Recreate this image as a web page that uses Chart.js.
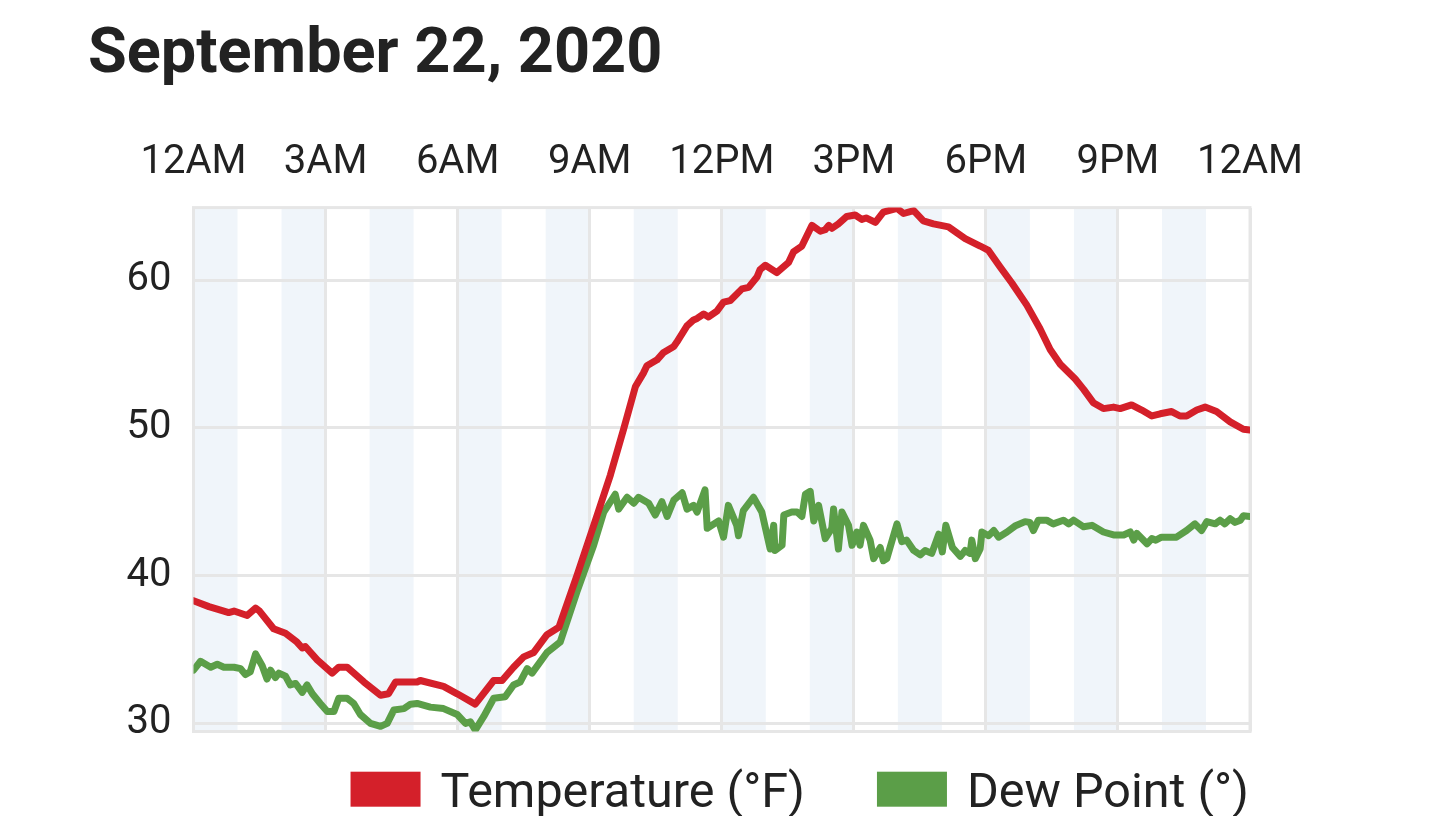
<!DOCTYPE html>
<html>
<head>
<meta charset="utf-8">
<script src="https://cdn.jsdelivr.net/npm/chart.js@4/dist/chart.umd.min.js"></script>
<style>
html,body{margin:0;padding:0;background:#fff;}
#wrap{width:1440px;height:816px;}
canvas{display:block;}
</style>
</head>
<body>
<div id="wrap"><canvas id="c" width="1440" height="816"></canvas></div>
<script>
const titleText = "September 22, 2020";
const hourTicks = [0, 3, 6, 9, 12, 15, 18, 21, 24];
const hourTickLabels = ["12AM", "3AM", "6AM", "9AM", "12PM", "3PM", "6PM", "9PM", "12AM"];
const valueTicks = [30, 40, 50, 60];
const shadedHourStarts = [0, 2, 4, 6, 8, 10, 12, 14, 16, 18, 20, 22];
const seriesLabels = ["Temperature (°F)", "Dew Point (°)"];

// hours since midnight
const tempTimes = [0.00,0.35,0.69,0.80,0.92,1.22,1.41,1.50,1.82,2.09,2.35,2.47,2.54,2.81,3.15,3.30,3.49,3.87,4.25,4.43,4.59,5.08,5.15,5.68,5.99,6.40,6.82,7.01,7.27,7.50,7.73,8.03,8.30,8.71,9.17,9.47,9.77,10.04,10.22,10.30,10.53,10.68,10.91,10.98,11.21,11.36,11.44,11.59,11.70,11.89,12.04,12.19,12.46,12.61,12.80,12.87,12.99,13.25,13.52,13.63,13.82,14.05,14.24,14.35,14.43,14.50,14.65,14.84,15.03,15.18,15.28,15.49,15.67,15.98,16.13,16.36,16.58,16.81,17.15,17.53,17.87,18.06,18.32,18.59,18.93,19.23,19.46,19.69,20.03,20.22,20.44,20.67,20.90,21.05,21.31,21.54,21.77,21.96,22.22,22.41,22.56,22.79,22.98,23.24,23.55,23.85,24.00];
const tempValues = [38.3,37.9,37.6,37.5,37.6,37.3,37.8,37.6,36.4,36.1,35.5,35.1,35.2,34.3,33.4,33.8,33.8,32.8,31.9,32.0,32.8,32.8,32.9,32.5,32.0,31.3,32.9,32.9,33.8,34.5,34.8,36.0,36.5,40.0,44.1,46.8,49.9,52.8,53.7,54.2,54.6,55.1,55.5,55.8,56.9,57.3,57.4,57.7,57.5,57.9,58.5,58.6,59.4,59.5,60.2,60.7,61.0,60.5,61.2,61.9,62.3,63.7,63.3,63.4,63.7,63.5,63.8,64.3,64.4,64.1,64.2,63.9,64.6,64.85,64.5,64.7,64.0,63.8,63.6,62.8,62.3,62.0,60.9,59.8,58.3,56.7,55.3,54.3,53.3,52.6,51.7,51.3,51.4,51.3,51.55,51.2,50.8,50.95,51.1,50.8,50.8,51.2,51.4,51.1,50.4,49.9,49.85];

const dewTimes = [0.00,0.16,0.39,0.54,0.69,0.92,1.07,1.18,1.29,1.41,1.56,1.67,1.75,1.86,1.94,2.09,2.20,2.32,2.47,2.58,2.70,2.88,3.04,3.19,3.30,3.49,3.64,3.79,4.02,4.25,4.40,4.55,4.78,4.93,5.08,5.38,5.68,5.99,6.18,6.29,6.40,6.59,6.82,7.08,7.27,7.42,7.58,7.69,8.03,8.33,8.71,9.09,9.32,9.58,9.66,9.85,10.00,10.11,10.34,10.49,10.64,10.76,10.91,11.10,11.21,11.36,11.44,11.62,11.67,11.93,12.04,12.15,12.34,12.38,12.49,12.72,12.91,13.10,13.18,13.21,13.37,13.41,13.59,13.71,13.82,13.90,14.01,14.09,14.20,14.35,14.50,14.54,14.65,14.73,14.88,14.96,15.07,15.14,15.22,15.37,15.45,15.60,15.67,15.75,15.98,16.09,16.20,16.36,16.51,16.62,16.77,16.93,17.01,17.09,17.24,17.42,17.53,17.64,17.68,17.76,17.87,17.91,18.06,18.18,18.29,18.48,18.66,18.89,19.00,19.08,19.19,19.38,19.53,19.76,19.88,19.99,20.22,20.41,20.67,20.90,21.13,21.28,21.36,21.43,21.66,21.77,21.86,21.99,22.33,22.56,22.75,22.90,23.02,23.21,23.32,23.43,23.55,23.66,23.78,23.85,24.00];
const dewValues = [33.6,34.2,33.8,34.0,33.8,33.8,33.7,33.3,33.5,34.7,33.9,33.0,33.6,33.1,33.4,33.2,32.6,32.7,32.1,32.6,32.0,31.35,30.8,30.8,31.7,31.7,31.35,30.6,30.0,29.8,30.0,30.9,31.0,31.3,31.35,31.1,31.0,30.6,30.0,30.1,29.55,30.45,31.7,31.8,32.6,32.8,33.7,33.4,34.8,35.5,38.9,42.05,44.3,45.5,44.5,45.3,44.9,45.3,44.9,44.1,45.0,44.0,45.1,45.6,44.5,44.75,44.3,45.8,43.2,43.7,42.6,44.75,43.4,42.7,44.4,45.3,44.3,41.8,43.4,41.7,42.05,44.1,44.3,44.3,44.0,45.5,45.7,43.7,44.75,42.5,43.2,44.5,41.8,44.3,43.4,42.05,42.95,42.05,43.4,42.4,41.15,41.9,41.0,41.15,43.5,42.3,42.4,41.7,41.4,41.7,41.5,42.8,41.6,43.4,41.9,41.3,41.7,41.5,42.4,41.15,41.8,42.95,42.7,43.05,42.6,42.95,43.35,43.65,43.6,43.05,43.75,43.75,43.5,43.75,43.5,43.75,43.3,43.4,42.95,42.75,42.75,42.95,42.4,42.85,42.15,42.5,42.4,42.6,42.6,43.05,43.5,43.05,43.65,43.5,43.75,43.5,43.85,43.6,43.75,44.05,44.0];

const toPoints = (xs, ys) => xs.map((x, i) => ({x: x, y: ys[i]}));

const GRID = '#e6e6e6';
const BAND = '#f0f5fa';
const TEXT = '#222222';
const RED = '#d4202a';
const GREEN = '#5b9e48';

const bandsPlugin = {
  id: 'bands',
  beforeDraw(chart) {
    const {ctx, chartArea} = chart;
    const xs = chart.scales.x;
    ctx.save();
    ctx.fillStyle = BAND;
    shadedHourStarts.forEach(h => {
      const x1 = xs.getPixelForValue(h);
      const x2 = xs.getPixelForValue(h + 1);
      ctx.fillRect(x1, chartArea.top, x2 - x1, chartArea.bottom - chartArea.top);
    });
    ctx.restore();
  },
  beforeDatasetsDraw(chart) {
    const {ctx, chartArea} = chart;
    ctx.save();
    ctx.strokeStyle = GRID;
    ctx.lineWidth = 3;
    ctx.strokeRect(chartArea.left, chartArea.top, chartArea.right - chartArea.left, chartArea.bottom - chartArea.top);
    ctx.restore();
  }
};

const legendPlugin = {
  id: 'bottomLegend',
  afterDraw(chart) {
    const {ctx, chartArea} = chart;
    const ds = chart.data.datasets;
    ctx.save();
    ctx.font = '48.5px Roboto';
    ctx.textBaseline = 'alphabetic';
    ctx.textAlign = 'left';
    const cy = chartArea.bottom + 57.7;
    let xRight = chartArea.right - 1;
    for (let i = ds.length - 1; i >= 0; i--) {
      const w = ctx.measureText(ds[i].label).width;
      const tx = xRight - w;
      ctx.fillStyle = TEXT;
      ctx.fillText(ds[i].label, tx, cy + 17.3);
      const bx = tx - 20 - 70;
      ctx.fillStyle = ds[i].borderColor;
      ctx.fillRect(bx, cy - 17.5, 70, 35);
      xRight = bx - 72;
    }
    ctx.restore();
  }
};

new Chart(document.getElementById('c'), {
  type: 'line',
  data: {
    datasets: [
      {
        label: seriesLabels[0],
        data: toPoints(tempTimes, tempValues),
        borderColor: RED,
        backgroundColor: RED,
        borderWidth: 7,
        pointRadius: 0,
        tension: 0,
        borderJoinStyle: 'round',
        borderCapStyle: 'round'
      },
      {
        label: seriesLabels[1],
        data: toPoints(dewTimes, dewValues),
        borderColor: GREEN,
        backgroundColor: GREEN,
        borderWidth: 7,
        pointRadius: 0,
        tension: 0,
        borderJoinStyle: 'round',
        borderCapStyle: 'round'
      }
    ]
  },
  options: {
    responsive: false,
    animation: false,
    devicePixelRatio: 1,
    layout: { padding: { left: 88, right: 190, top: 0, bottom: 84.5 } },
    plugins: {
      legend: { display: false },
      tooltip: { enabled: false },
      title: {
        display: true,
        text: titleText,
        align: 'start',
        color: TEXT,
        font: { family: 'Roboto', size: 63, weight: 'bold', lineHeight: 1.2 },
        padding: { top: 18, bottom: 41 }
      }
    },
    scales: {
      x: {
        type: 'linear',
        position: 'top',
        min: 0,
        max: 24,
        afterBuildTicks: (axis) => { axis.ticks = hourTicks.map(v => ({ value: v })); },
        afterFit: (axis) => { axis.height = 73; },
        ticks: {
          callback: (value, index) => hourTickLabels[index],
          color: TEXT,
          font: { family: 'Roboto', size: 40 },
          padding: 21,
          maxRotation: 0,
          autoSkip: false
        },
        grid: { color: GRID, lineWidth: 3, drawTicks: false },
        border: { display: false }
      },
      y: {
        type: 'linear',
        min: 29.45,
        max: 64.9,
        afterBuildTicks: (axis) => { axis.ticks = valueTicks.map(v => ({ value: v })); },
        afterFit: (axis) => { axis.width = 105.5; },
        ticks: {
          color: TEXT,
          font: { family: 'Roboto', size: 40 },
          padding: 22
        },
        grid: { color: GRID, lineWidth: 3, drawTicks: false },
        border: { display: false }
      }
    }
  },
  plugins: [bandsPlugin, legendPlugin]
});
</script>
</body>
</html>
